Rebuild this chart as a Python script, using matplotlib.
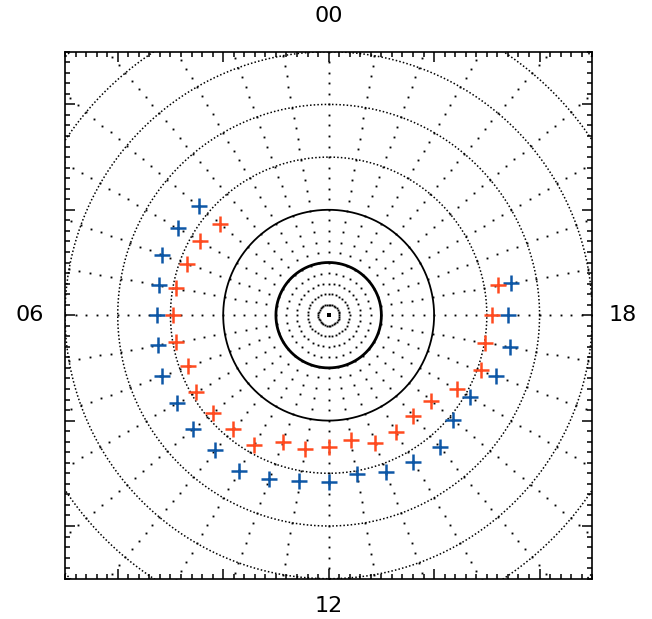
import numpy as np
import matplotlib
matplotlib.use("Agg")
import matplotlib.pyplot as plt
from matplotlib.ticker import MultipleLocator

# ---- data ----
mlt_hours = [3.33, 4.00, 4.67, 5.33, 6.00, 6.67, 7.33, 8.00, 8.67, 9.33, 10.00, 10.67,
             11.33, 12.00, 12.67, 13.33, 14.00, 14.67, 15.33, 16.00, 16.67, 17.33, 18.00, 18.67]
blue_colat = [16.06, 16.48, 16.81, 16.31, 16.32, 16.47, 16.85, 16.62, 16.76, 16.73, 17.04, 16.56,
              15.98, 15.85, 15.33, 15.81, 16.08, 16.38, 15.45, 15.48, 16.85, 17.47, 17.04, 17.54]
red_colat = [13.50, 14.11, 14.29, 14.71, 14.74, 14.70, 14.19, 14.53, 14.38, 14.07, 14.21, 12.78,
             12.89, 12.48, 12.02, 12.94, 12.81, 12.49, 12.63, 14.03, 15.33, 15.05, 15.46, 16.34]
dial_labels = ["00", "06", "12", "18"]
solid_circles = [5, 10]
dotted_circles = [15, 20, 25, 30, 35]

BLUE = "#0d57a6"
RED = "#ff4a1f"


def to_xy(mlt, colat):
    a = np.deg2rad(np.asarray(mlt) * 15.0)
    c = np.asarray(colat)
    return -c * np.sin(a), c * np.cos(a)


W, H = 652, 619
fig = plt.figure(figsize=(W / 100, H / 100), dpi=100)
ax = fig.add_axes([65 / W, 1 - 578.7 / H, 527.3 / W, 527 / H])
ax.set_xlim(-25, 25)
ax.set_ylim(-25, 25)

# grid dots: every 1 deg colatitude, every 10 deg longitude
cg, lg = np.meshgrid(np.arange(1, 36), np.arange(0, 360, 10))
gx, gy = to_xy(lg.ravel() / 15.0, cg.ravel())
ax.plot(gx, gy, ls="none", marker="s", ms=1.35, mew=0, color="#000000")
ax.plot([0], [0], ls="none", marker="s", ms=2.6, mew=0, color="k")

th = np.linspace(0, 2 * np.pi, 1441)
for r, lw in zip(solid_circles, [2.0, 1.3]):
    ax.plot(r * np.cos(th), r * np.sin(th), color="k", lw=lw, solid_capstyle="butt")
for r in dotted_circles:
    ax.plot(r * np.cos(th), r * np.sin(th), color="k", lw=1.1, ls=(0, (1, 1.4)))

bx, by = to_xy(mlt_hours, blue_colat)
ax.plot(bx, by, ls="none", marker="+", ms=11, mew=1.8, color=BLUE)
rx, ry = to_xy(mlt_hours, red_colat)
ax.plot(rx, ry, ls="none", marker="+", ms=11, mew=1.8, color=RED)

# axes styling
ax.xaxis.set_major_locator(MultipleLocator(10))
ax.yaxis.set_major_locator(MultipleLocator(10))
ax.xaxis.set_minor_locator(MultipleLocator(1))
ax.yaxis.set_minor_locator(MultipleLocator(1))
ax.tick_params(which="both", direction="in", top=True, right=True,
               labelbottom=False, labelleft=False, width=1.1, color="k")
ax.tick_params(which="major", length=7.2)
ax.tick_params(which="minor", length=3.6)
for s in ax.spines.values():
    s.set_linewidth(1.2)

fs = 16
ax.text(0, 28.36, dial_labels[0], ha="center", va="center", fontsize=fs, clip_on=False)
ax.text(-28.34, 0, dial_labels[1], ha="center", va="center", fontsize=fs, clip_on=False)
ax.text(0, -27.55, dial_labels[2], ha="center", va="center", fontsize=fs, clip_on=False)
ax.text(27.9, 0, dial_labels[3], ha="center", va="center", fontsize=fs, clip_on=False)

fig.savefig("out.png", dpi=100)
